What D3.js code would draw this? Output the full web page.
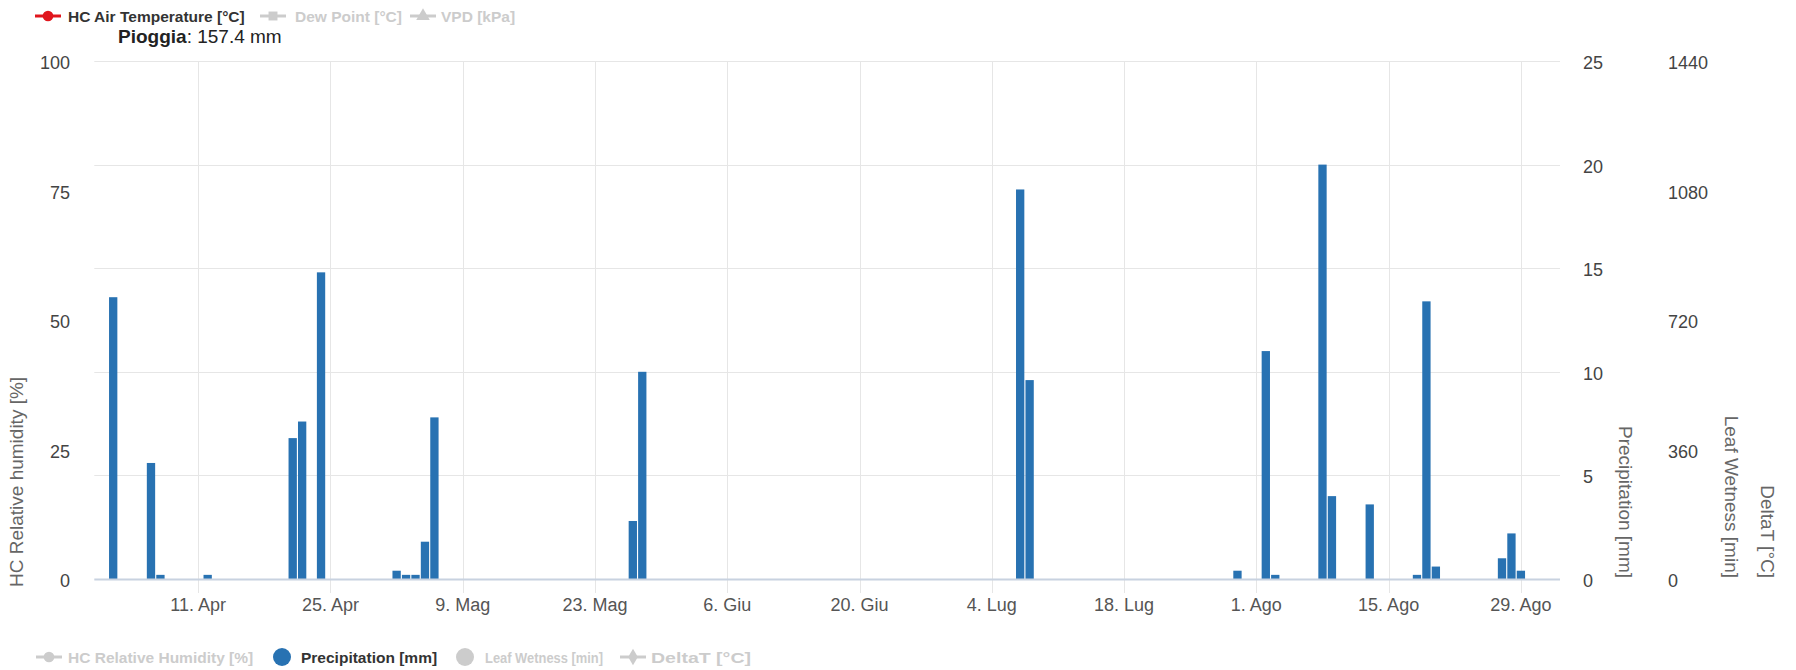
<!DOCTYPE html>
<html>
<head>
<meta charset="utf-8">
<script src="https://cdn.jsdelivr.net/npm/d3@7"></script>
<style>
  html, body { margin: 0; padding: 0; background: #fff; }
  svg { display: block; font-family: "Liberation Sans", Arial, sans-serif; }
</style>
</head>
<body>
<svg id="chart" width="1796" height="670"></svg>
<script>
// ---- data ----
const rainDates = ["2023-04-02","2023-04-06","2023-04-07","2023-04-12","2023-04-21","2023-04-22","2023-04-24",
  "2023-05-02","2023-05-03","2023-05-04","2023-05-05","2023-05-06","2023-05-27","2023-05-28",
  "2023-07-07","2023-07-08","2023-07-30","2023-08-02","2023-08-03","2023-08-08","2023-08-09",
  "2023-08-13","2023-08-18","2023-08-19","2023-08-20","2023-08-27","2023-08-28","2023-08-29"];
const rainValues = [13.6,5.6,0.2,0.2,6.8,7.6,14.8,
  0.4,0.2,0.2,1.8,7.8,2.8,10.0,
  18.8,9.6,0.4,11.0,0.2,20.0,4.0,
  3.6,0.2,13.4,0.6,1.0,2.2,0.4];
const xTickDates = ["2023-04-11","2023-04-25","2023-05-09","2023-05-23","2023-06-06","2023-06-20",
  "2023-07-04","2023-07-18","2023-08-01","2023-08-15","2023-08-29"];
const xTickLabels = ["11. Apr","25. Apr","9. Mag","23. Mag","6. Giu","20. Giu",
  "4. Lug","18. Lug","1. Ago","15. Ago","29. Ago"];
const humidityTicks = [0,25,50,75,100];
const precipTicks = [0,5,10,15,20,25];
const leafTicks = [0,360,720,1080,1440];
const totalRain = "157.4 mm";
const topLegend = ["HC Air Temperature [°C]","Dew Point [°C]","VPD [kPa]"];
const bottomLegend = ["HC Relative Humidity [%]","Precipitation [mm]","Leaf Wetness [min]","DeltaT [°C]"];

// ---- layout ----
const svg = d3.select("#chart");
const L = 94.3, R = 1560, T = 61, B = 579;
const barColor = "#2872b2";
const gridColor = "#e6e6e6";
const inactive = "#cccccc";

const parse = s => new Date(s + "T00:00:00Z");
const x = d3.scaleUtc().domain([new Date(Date.UTC(2023,2,31,0)), new Date(Date.UTC(2023,8,2,3,20))]).range([L, R]);
const yP = d3.scaleLinear().domain([0,25]).range([B, T]);
const yH = d3.scaleLinear().domain([0,100]).range([B, T]);
const yL = d3.scaleLinear().domain([0,1440]).range([B, T]);

// vertical gridlines
const tickDates = xTickDates.map(parse);
svg.append("g").selectAll("line").data(tickDates).join("line")
  .attr("x1", d => Math.round(x(d)) + 0.5).attr("x2", d => Math.round(x(d)) + 0.5)
  .attr("y1", T).attr("y2", B + 14)
  .attr("stroke", gridColor).attr("stroke-width", 1);

// horizontal gridlines (precip axis)
svg.append("g").selectAll("line").data(precipTicks.filter(v => v > 0)).join("line")
  .attr("x1", L).attr("x2", R)
  .attr("y1", d => Math.round(yP(d)) + 0.5).attr("y2", d => Math.round(yP(d)) + 0.5)
  .attr("stroke", gridColor).attr("stroke-width", 1);

// bars
const step = x(parse("2023-04-02")) - x(parse("2023-04-01"));
const bw = step * 0.88;
svg.append("g").selectAll("rect").data(rainDates.map((d,i) => ({d: parse(d), v: rainValues[i]}))).join("rect")
  .attr("x", d => x(d.d) - bw/2).attr("width", bw)
  .attr("y", d => yP(d.v)).attr("height", d => B - yP(d.v))
  .attr("fill", barColor);

// baseline
svg.append("line").attr("x1", L).attr("x2", R).attr("y1", B + 0.5).attr("y2", B + 0.5)
  .attr("stroke", "#c8d2e0").attr("stroke-width", 2);

// x labels
svg.append("g").selectAll("text").data(tickDates).join("text")
  .attr("x", d => x(d)).attr("y", 611)
  .attr("text-anchor", "middle").attr("font-size", 18).attr("fill", "#555")
  .text((d,i) => xTickLabels[i]);

// left axis labels
svg.append("g").selectAll("text").data(humidityTicks).join("text")
  .attr("x", 70).attr("y", d => yH(d) + 8)
  .attr("text-anchor", "end").attr("font-size", 18).attr("fill", "#444")
  .text(d => d);

// right precip labels
svg.append("g").selectAll("text").data(precipTicks).join("text")
  .attr("x", 1583).attr("y", d => yP(d) + 8)
  .attr("text-anchor", "start").attr("font-size", 18).attr("fill", "#444")
  .text(d => d);

// right leaf wetness labels
svg.append("g").selectAll("text").data(leafTicks).join("text")
  .attr("x", 1668).attr("y", d => yL(d) + 8)
  .attr("text-anchor", "start").attr("font-size", 18).attr("fill", "#444")
  .text(d => d);

// axis titles
svg.append("text").attr("transform", "translate(16,587) rotate(-90)")
  .attr("dy", "0.35em").attr("text-anchor", "start").attr("font-size", 19).attr("fill", "#666")
  .text("HC Relative humidity [%]");
[[1626, "Precipitation [mm]"], [1732, "Leaf Wetness [min]"], [1768, "DeltaT [°C]"]].forEach(([cx, t]) => {
  svg.append("text").attr("transform", `translate(${cx},578) rotate(90)`)
    .attr("dy", "0.35em").attr("text-anchor", "end").attr("font-size", 19).attr("fill", "#666")
    .text(t);
});

// subtitle
const st = svg.append("text").attr("x", 118).attr("y", 42.5).attr("font-size", 19).attr("fill", "#222");
st.append("tspan").attr("font-weight", "bold").text("Pioggia");
st.append("tspan").text(": " + totalRain);

// legend helpers
function lineMarker(g, cx, cy, color, shape) {
  g.append("line").attr("x1", cx - 13).attr("x2", cx + 13).attr("y1", cy).attr("y2", cy)
    .attr("stroke", color).attr("stroke-width", 3);
  const sym = {circle: d3.symbolCircle, square: d3.symbolSquare, triangle: d3.symbolTriangle, diamond: d3.symbolDiamond}[shape];
  g.append("path").attr("d", d3.symbol().type(sym).size(shape === "circle" ? 90 : 80)())
    .attr("transform", `translate(${cx},${cy})`).attr("fill", color);
}
function legendText(g, tx, ty, t, color, len) {
  const el = g.append("text").attr("x", tx).attr("y", ty).attr("font-size", 15.5).attr("font-weight", "bold")
    .attr("fill", color).text(t);
  if (len) el.attr("textLength", len).attr("lengthAdjust", "spacingAndGlyphs");
}

// top legend
const lg = svg.append("g");
lineMarker(lg, 48, 16, "#e0161d", "circle");
legendText(lg, 68, 21.5, topLegend[0], "#333");
lineMarker(lg, 273, 16, inactive, "square");
legendText(lg, 295, 21.5, topLegend[1], inactive);
lineMarker(lg, 423, 16, inactive, "triangle");
legendText(lg, 441, 21.5, topLegend[2], inactive);

// bottom legend
const bg = svg.append("g");
const by = 657;
lineMarker(bg, 49, by, inactive, "circle");
legendText(bg, 68, by + 5.5, bottomLegend[0], inactive);
bg.append("circle").attr("cx", 282).attr("cy", by).attr("r", 9).attr("fill", barColor);
legendText(bg, 301, by + 5.5, bottomLegend[1], "#333");
bg.append("circle").attr("cx", 465).attr("cy", by).attr("r", 9).attr("fill", inactive);
legendText(bg, 485, by + 5.5, bottomLegend[2], inactive, 118);
lineMarker(bg, 633, by, inactive, "diamond");
legendText(bg, 651, by + 5.5, bottomLegend[3], inactive, 100);
</script>
</body>
</html>
